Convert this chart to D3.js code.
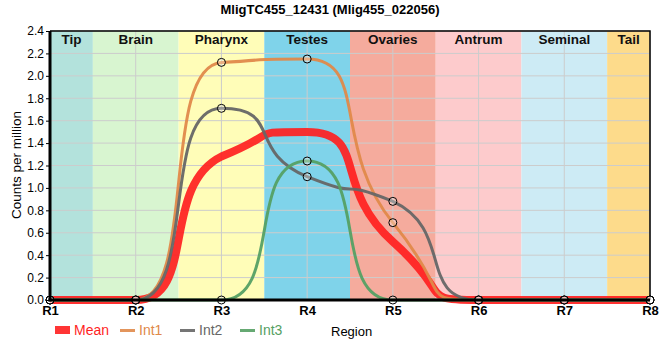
<!DOCTYPE html>
<html>
<head>
<meta charset="utf-8">
<script src="https://cdn.jsdelivr.net/npm/d3@7"></script>
<style>
  body { margin: 0; background: #fff; }
  svg text { font-family: "Liberation Sans", Arial, sans-serif; }
</style>
</head>
<body>
<div id="chart-area"></div>
<script>
const regions = ["R1", "R2", "R3", "R4", "R5", "R6", "R7", "R8"]
const tissues = ["Tip", "Brain", "Pharynx", "Testes", "Ovaries", "Antrum", "Seminal", "Tail"]
const tissueColors = ["#b3e2dc", "#d8f5d0", "#fffdb8", "#7fd3ea", "#f5ab9d", "#fdcbcc", "#cdebf5", "#fddb8b"]
const yTicks = [0, 0.2, 0.4, 0.6, 0.8, 1.0, 1.2, 1.4, 1.6, 1.8, 2.0, 2.2, 2.4]

const meanValues = [0, 0, 1.28, 1.50, 0.52, 0, 0, 0]
const int1Values = [0, 0, 2.12, 2.15, 0.69, 0, 0, 0]
const int2Values = [0, 0, 1.71, 1.10, 0.88, 0, 0, 0]
const int3Values = [0, 0, 0, 1.24, 0, 0, 0, 0]

const w = 660
const h = 360

const svg = d3.select("#chart-area")
  .append("svg")
  .attr("width", w)
  .attr("height", h)

const x = d3.scalePoint()
  .domain(regions)
  .range([50, 650])

const y = d3.scaleLinear()
  .domain([0, 2.4])
  .range([300, 31])

const step = x.step()
const bandLeft = i => Math.max(50, x(regions[i]) - step / 2)
const bandRight = i => Math.min(650, x(regions[i]) + step / 2)

// tissue bands
svg.selectAll(".band")
  .data(tissues)
  .enter()
  .append("rect")
  .attr("class", "band")
  .attr("x", (d, i) => bandLeft(i))
  .attr("width", (d, i) => bandRight(i) - bandLeft(i))
  .attr("y", y(2.4))
  .attr("height", y(0) - y(2.4))
  .attr("fill", (d, i) => tissueColors[i])

// grid
svg.append("g")
  .selectAll("line")
  .data(yTicks)
  .enter()
  .append("line")
  .attr("x1", 50).attr("x2", 650)
  .attr("y1", d => y(d)).attr("y2", d => y(d))
  .attr("stroke", "#cccccc")
  .attr("stroke-width", 1)

svg.append("g")
  .selectAll("line")
  .data(regions)
  .enter()
  .append("line")
  .attr("x1", d => x(d)).attr("x2", d => x(d))
  .attr("y1", y(0)).attr("y2", y(2.4))
  .attr("stroke", "#cccccc")
  .attr("stroke-width", 1)

// band labels
svg.selectAll(".band-label")
  .data(tissues)
  .enter()
  .append("text")
  .attr("class", "band-label")
  .attr("x", (d, i) => (bandLeft(i) + bandRight(i)) / 2)
  .attr("y", 44)
  .attr("text-anchor", "middle")
  .style("font-size", "13.5px")
  .style("font-weight", "bold")
  .attr("fill", "#111")
  .text(d => d)

// frame top/right
svg.append("path")
  .attr("d", `M50,${y(2.4)}H650V${y(0)}`)
  .attr("fill", "none")
  .attr("stroke", "#000")
  .attr("stroke-width", 1.5)

// steep monotone curve: harmonic-mean tangents, long bezier handles
const curveSteep = k => context => {
  let pts
  return {
    areaStart() {}, areaEnd() {},
    lineStart() { pts = [] },
    point(px, py) { pts.push([+px, +py]) },
    lineEnd() {
      const n = pts.length
      const sl = []
      for (let i = 0; i < n - 1; i++) sl.push((pts[i + 1][1] - pts[i][1]) / (pts[i + 1][0] - pts[i][0]))
      const m = pts.map((p, i) => {
        if (i === 0 || i === n - 1) return 0
        const a = sl[i - 1], b = sl[i]
        return a * b > 0 ? 2 * a * b / (a + b) : 0
      })
      context.moveTo(pts[0][0], pts[0][1])
      for (let i = 0; i < n - 1; i++) {
        const [x0, y0] = pts[i], [x1, y1] = pts[i + 1]
        const dx = (x1 - x0) * k
        const lo = Math.min(y0, y1), hi = Math.max(y0, y1)
        const c1 = Math.max(lo, Math.min(hi, y0 + m[i] * dx))
        const c2 = Math.max(lo, Math.min(hi, y1 - m[i + 1] * dx))
        context.bezierCurveTo(x0 + dx, c1, x1 - dx, c2, x1, y1)
      }
    }
  }
}

const line = d3.line()
  .x((d, i) => x(regions[i]))
  .y(d => y(d))
  .curve(curveSteep(0.72))

const series = [
  { name: "Mean", values: meanValues, color: "#ff1f1f", width: 8, opacity: 0.92 },
  { name: "Int1", values: int1Values, color: "#e0894a", width: 3, opacity: 0.95 },
  { name: "Int2", values: int2Values, color: "#666666", width: 3, opacity: 0.95 },
  { name: "Int3", values: int3Values, color: "#55a064", width: 3, opacity: 0.95 }
]

svg.selectAll(".series")
  .data(series)
  .enter()
  .append("path")
  .attr("class", "series")
  .attr("d", d => line(d.values))
  .attr("fill", "none")
  .attr("stroke", d => d.color)
  .attr("stroke-width", d => d.width)
  .attr("stroke-opacity", d => d.opacity)

// markers for the individual series
const points = []
series.slice(1).forEach(s => s.values.forEach((v, i) => points.push({ r: regions[i], v: v })))

svg.selectAll(".pt")
  .data(points)
  .enter()
  .append("circle")
  .attr("class", "pt")
  .attr("cx", d => x(d.r))
  .attr("cy", d => y(d.v))
  .attr("r", 4)
  .attr("fill", "#fff")
  .attr("fill-opacity", 0.3)
  .attr("stroke", "#000")
  .attr("stroke-width", 1)

// axes
const yAxis = d3.axisLeft(y)
  .tickValues(yTicks)
  .tickFormat(d3.format(".1f"))
  .tickSize(4)
  .tickPadding(2)

svg.append("g")
  .attr("transform", "translate(50,0)")
  .call(yAxis)
  .call(g => g.select(".domain").attr("stroke-width", 3).attr("d", `M0,${y(2.4)}V${y(0) + 1.5}`))
  .call(g => g.selectAll("text").style("font-size", "12px").attr("fill", "#000"))

const xAxis = d3.axisBottom(x).tickSize(0).tickPadding(6)

svg.append("g")
  .attr("transform", `translate(0,${y(0)})`)
  .call(xAxis)
  .call(g => g.select(".domain").attr("stroke-width", 3).attr("d", "M48.5,0H650"))
  .call(g => g.selectAll("text").style("font-size", "13px").style("font-weight", "bold").attr("fill", "#000"))

// title and axis titles
svg.append("text")
  .attr("x", 330)
  .attr("y", 14)
  .attr("text-anchor", "middle")
  .style("font-size", "13px")
  .style("font-weight", "bold")
  .text("MligTC455_12431 (Mlig455_022056)")

svg.append("text")
  .attr("transform", "translate(21,165) rotate(-90)")
  .attr("text-anchor", "middle")
  .style("font-size", "13.5px")
  .text("Counts per million")

svg.append("text")
  .attr("x", 331)
  .attr("y", 336)
  .style("font-size", "13px")
  .text("Region")

// legend
const legend = svg.append("g")
  .selectAll("g")
  .data(series)
  .enter()
  .append("g")
  .attr("transform", (d, i) => `translate(${55 + i * 60 + (i > 0 ? 5 : 0)},0)`)

legend.append("rect")
  .attr("x", 0)
  .attr("width", 15)
  .attr("y", d => d.name === "Mean" ? 326 : 329)
  .attr("height", d => d.name === "Mean" ? 8 : 3)
  .attr("fill", d => d.color)
  .attr("fill-opacity", 0.9)

legend.append("text")
  .attr("x", 19)
  .attr("y", 335)
  .style("font-size", "14px")
  .attr("fill", d => d.color)
  .text(d => d.name)
</script>
</body>
</html>
